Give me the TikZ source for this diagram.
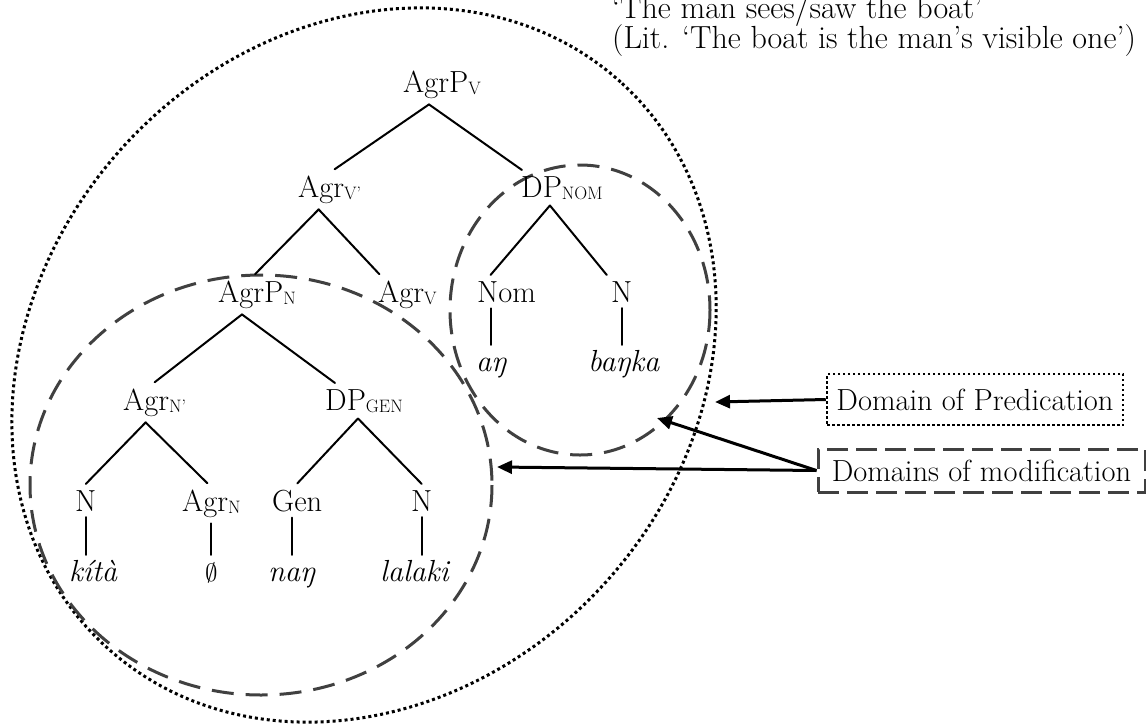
\documentclass[tikz,border=0pt]{standalone}
\usepackage{fontspec}
\usetikzlibrary{arrows.meta}
% small lowered index on category labels
\newcommand\lsub[1]{\raisebox{-2pt}{\fontsize{18}{18}\selectfont #1}}
\begin{document}
\begin{tikzpicture}[x=1pt,y=-1pt,
  cat/.style={inner xsep=0pt, inner ysep=6pt, anchor=base west, font=\fontsize{30.5}{36}\selectfont},
  word/.style={cat, text height=20pt, font=\fontsize{30.5}{36}\selectfont\itshape},
  branch/.style={line width=2pt, line cap=round},
  dotring/.style={line width=3pt, dash pattern=on 3pt off 3pt, black},
  dashring/.style={line width=3pt, dash pattern=on 22pt off 12pt, black!75},
  arr/.style={line width=3pt, -{Triangle[length=15pt,width=13pt]}},
  gloss/.style={anchor=base west, inner sep=0pt, font=\fontsize{32}{38}\selectfont}]
\useasboundingbox (0,0) rectangle (1146,724);

% domains
\draw[dotring, rotate around={47.5:(364,365)}] (364,365) ellipse [x radius=382, y radius=325];
\draw[dashring] (261,485) ellipse [x radius=231, y radius=210];
\draw[dashring] (580,310) ellipse [x radius=130, y radius=145];

% translation
\node[gloss] (trans) at (612,18) {‘The man sees/saw the boat’};
\node[gloss] (lit) at (612,48) {(Lit. ‘The boat is the man’s visible one’)};

% tree
\node[cat] (AgrPV) at (403,92) {AgrP\lsub{V}};
\node[cat] (AgrVbar) at (298,197) {Agr\lsub{V’}};
\node[cat] (DPnom) at (521,197) {DP\lsub{NOM}};
\node[cat] (AgrPN) at (218,302) {AgrP\lsub{N}};
\node[cat] (AgrV) at (378,302) {Agr\lsub{V}};
\node[cat] (Nom) at (477,302) {Nom};
\node[cat] (Nb) at (611,302) {N};
\node[word] (an) at (476,371) {aŋ};
\node[word] (banka) at (588,371) {baŋka};
\node[cat] (AgrNbar) at (123,410) {Agr\lsub{N’}};
\node[cat] (DPgen) at (325,410) {DP\lsub{GEN}};
\node[cat] (Nk) at (75,511) {N};
\node[cat] (AgrN) at (182,511) {Agr\lsub{N}};
\node[cat] (Gen) at (272,511) {Gen};
\node[cat] (Nl) at (411,511) {N};
\node[word] (kita) at (69,581) {kítà};
\node[word] (null) at (205,581) {$\emptyset$};
\node[word] (nan) at (268,581) {naŋ};
\node[word] (lalaki) at (380,581) {lalaki};

\draw[branch] ([xshift=-13pt]AgrPV.south) -- ([xshift=5pt]AgrVbar.north);
\draw[branch] ([xshift=-13pt]AgrPV.south) -- ([xshift=-40pt]DPnom.north);
\draw[branch] ([xshift=-11pt]AgrVbar.south) -- ([xshift=-2pt]AgrPN.north);
\draw[branch] ([xshift=-11pt]AgrVbar.south) -- ([xshift=-28pt]AgrV.north);
\draw[branch] ([xshift=-12pt]DPnom.south) -- ([xshift=-16pt]Nom.north);
\draw[branch] ([xshift=-12pt]DPnom.south) -- ([xshift=-15pt]Nb.north);
\draw[branch] (an.north) -- (an.north |- Nom.south);
\draw[branch] (Nb.south) -- (Nb.south |- banka.north);
\draw[branch] ([xshift=-15pt]AgrPN.south) -- (AgrNbar.north);
\draw[branch] ([xshift=-15pt]AgrPN.south) -- ([xshift=-29pt]DPgen.north);
\draw[branch] ([xshift=-9pt]AgrNbar.south) -- (Nk.north);
\draw[branch] ([xshift=-9pt]AgrNbar.south) -- ([xshift=-4pt]AgrN.north);
\draw[branch] ([xshift=-6pt]DPgen.south) -- (Gen.north);
\draw[branch] ([xshift=-6pt]DPgen.south) -- (Nl.north);
\draw[branch] (Nk.south) -- (Nk.south |- kita.north);
\draw[branch] (null.north) -- (null.north |- AgrN.south);
\draw[branch] (nan.north) -- (nan.north |- Gen.south);
\draw[branch] (Nl.south) -- (Nl.south |- lalaki.north);

% legend boxes
\node[draw, line width=2.5pt, dash pattern=on 2.5pt off 2.5pt, minimum width=296pt, minimum height=51pt,
      inner sep=0pt, font=\fontsize{30.5}{36}\selectfont] (pred) at (975,399.5) {Domain of Predication};
\node[draw=black!75, line width=3pt, dash pattern=on 21pt off 8pt, minimum width=327pt, minimum height=43pt,
      inner sep=0pt, font=\fontsize{30.5}{36}\selectfont] (mod) at (981.5,470.5) {Domains of modification};

\coordinate (predtip) at (715,402);
\coordinate (smalltip) at (657,418);
\coordinate (modtip) at (497,467);
\draw[arr] (pred.west) -- (predtip);
\draw[arr] (mod.west) -- (smalltip);
\draw[arr] (mod.west) -- (modtip);
\end{tikzpicture}
\end{document}
